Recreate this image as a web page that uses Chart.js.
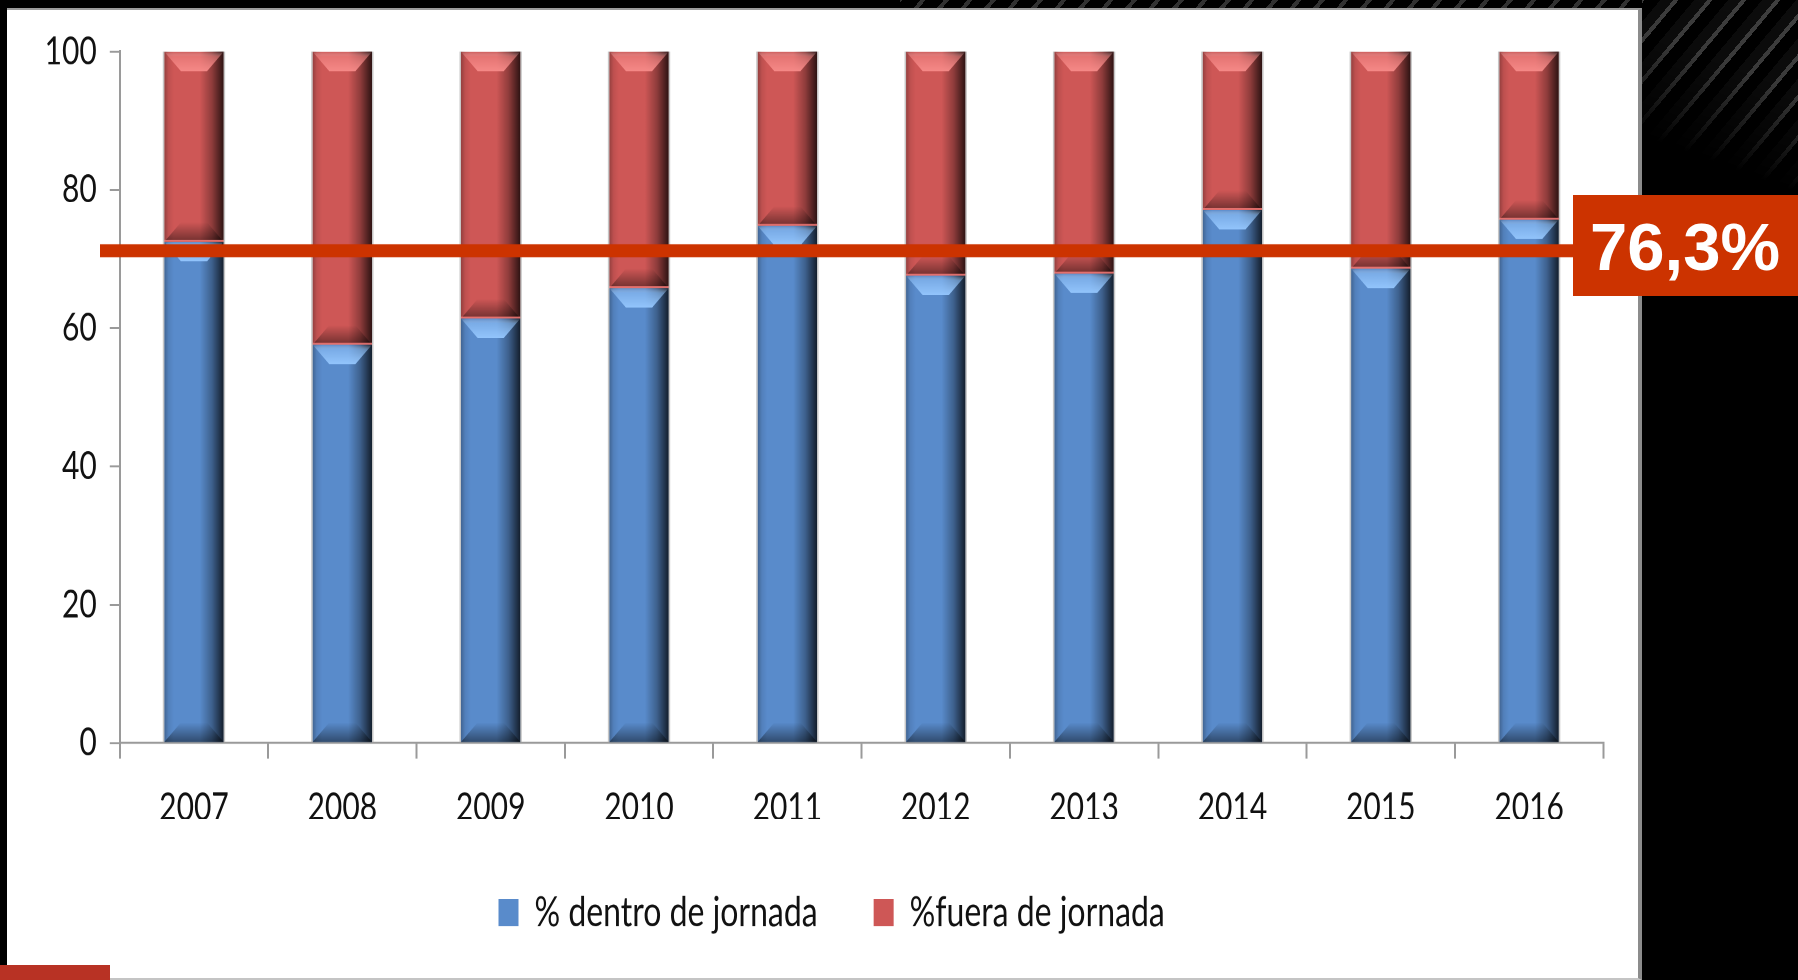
<!DOCTYPE html>
<html>
<head>
<meta charset="utf-8">
<script src="https://cdn.jsdelivr.net/npm/chart.js@4.4.1/dist/chart.umd.min.js"></script>
<style>
html,body{margin:0;padding:0;background:#000;width:1798px;height:980px;overflow:hidden;}
#panel{position:absolute;left:7px;top:8px;width:1631px;height:968px;background:#fff;border-top:2px solid #9b9b9b;border-right:4px solid #8c8c8c;border-bottom:2px solid #c4c4c4;}
#tex{position:absolute;left:1642px;top:0;width:156px;height:200px;
 background:repeating-linear-gradient(-50deg,rgba(0,0,0,0) 0 12px,rgba(85,85,85,0.75) 12px 16px,rgba(20,20,20,0.6) 16px 26px);
 -webkit-mask-image:linear-gradient(200deg,rgba(0,0,0,1) 0%,rgba(0,0,0,0.9) 35%,rgba(0,0,0,0) 75%);
 mask-image:linear-gradient(200deg,rgba(0,0,0,1) 0%,rgba(0,0,0,0.9) 35%,rgba(0,0,0,0) 75%);}
#toptex{position:absolute;left:900px;top:0;width:742px;height:8px;
 background:repeating-linear-gradient(-50deg,rgba(0,0,0,0) 0 14px,rgba(70,70,70,0.7) 14px 18px);}
#wrap{position:absolute;left:0;top:0;width:1798px;height:754px;transform:scaleY(1.3);transform-origin:0 0;}
#badge{position:absolute;left:1573px;top:195px;width:225px;height:101px;background:#CC3300;}
#badge span{position:absolute;left:17px;top:18px;font:bold 67px "Liberation Sans",Arial,sans-serif;line-height:67px;color:#fff;white-space:nowrap;}
#corner{position:absolute;left:0;top:965px;width:110px;height:15px;background:#B83224;}
</style>
</head>
<body>
<div id="panel"></div>
<div id="tex"></div>
<div id="toptex"></div>
<div id="wrap"><canvas id="c"></canvas></div>
<div id="badge"><span id="badgeText"></span></div>
<div id="corner"></div>
<script>
// ---- data ----
const years = ['2007','2008','2009','2010','2011','2012','2013','2014','2015','2016'];
const dentro = [72.5, 57.6, 61.4, 65.8, 74.8, 67.6, 67.9, 77.1, 68.6, 75.7];
const fuera  = [27.5, 42.4, 38.6, 34.2, 25.2, 32.4, 32.1, 22.9, 31.4, 24.3];
const seriesNames = ['% dentro de jornada', '%fuera de jornada'];
const yTicks = [0, 20, 40, 60, 80, 100];
const refLevel = [71.2];
const refLabel = ['76,3%'];

document.getElementById('badgeText').textContent = refLabel[0];

const STRETCH = 1.3;
const lightCols = ['rgba(150,200,255,1)', 'rgba(248,140,138,1)'];

const legendShift = {
  id: 'legendShift',
  afterLayout(chart) {
    if (chart.legend) { chart.legend.left += 30; chart.legend.right += 30; }
  }
};

const bevelPlugin = {
  id: 'bevel',
  afterDatasetsDraw(chart) {
    const ctx = chart.ctx;
    chart.data.datasets.forEach((ds, di) => {
      const meta = chart.getDatasetMeta(di);
      meta.data.forEach(el => {
        const p = el.getProps(['x', 'y', 'base', 'width'], true);
        const w = p.width, l = p.x - w / 2, r = p.x + w / 2;
        const t = Math.min(p.y, p.base), b = Math.max(p.y, p.base);
        const d = Math.min(15, (b - t) / 2);
        const ins = w * 0.28;
        ctx.save();
        let g = ctx.createLinearGradient(l, 0, r, 0);
        g.addColorStop(0, 'rgba(0,0,0,0.28)');
        g.addColorStop(0.07, 'rgba(0,0,0,0.08)');
        g.addColorStop(0.16, 'rgba(0,0,0,0)');
        g.addColorStop(0.6, 'rgba(0,0,0,0)');
        g.addColorStop(0.8, 'rgba(0,0,0,0.3)');
        g.addColorStop(1, 'rgba(0,0,0,0.78)');
        ctx.fillStyle = g;
        ctx.fillRect(l, t, w, b - t);
        g = ctx.createLinearGradient(0, t, 0, t + d);
        g.addColorStop(0, 'rgba(255,255,255,0)');
        g.addColorStop(0.25, lightCols[di].replace(',1)', ',0.55)'));
        g.addColorStop(1, lightCols[di].replace(',1)', ',0.95)'));
        ctx.fillStyle = g;
        ctx.beginPath();
        ctx.moveTo(l, t); ctx.lineTo(r, t); ctx.lineTo(r - ins, t + d); ctx.lineTo(l + ins, t + d);
        ctx.closePath(); ctx.fill();
        g = ctx.createLinearGradient(0, b - d, 0, b);
        g.addColorStop(0, 'rgba(0,0,0,0)');
        g.addColorStop(1, 'rgba(0,0,0,0.45)');
        ctx.fillStyle = g;
        ctx.beginPath();
        ctx.moveTo(l, b); ctx.lineTo(r, b); ctx.lineTo(r - ins, b - d); ctx.lineTo(l + ins, b - d);
        ctx.closePath(); ctx.fill();
        if (di === 1) {
          ctx.fillStyle = 'rgba(240,120,118,0.9)';
          ctx.fillRect(l, b - 1.5, w, 1.5);
        }
        ctx.fillStyle = 'rgba(185,185,185,0.8)';
        ctx.fillRect(l - 1.5, t, 1.5, b - t);
        ctx.fillRect(r, t, 1.5, b - t);
        ctx.restore();
      });
    });
    const y = chart.scales.y.getPixelForValue(refLevel[0]);
    ctx.save();
    ctx.fillStyle = '#CC3300';
    ctx.fillRect(100, y - 13 / STRETCH / 2, 1573 - 100, 13 / STRETCH);
    ctx.restore();
  }
};

const font = {family: 'Lato, "Open Sans", sans-serif', size: 30};

new Chart(document.getElementById('c'), {
  type: 'bar',
  data: {
    labels: years,
    datasets: [
      {label: seriesNames[0], data: dentro, backgroundColor: '#598BCB', borderWidth: 0, barPercentage: 0.4, categoryPercentage: 1},
      {label: seriesNames[1], data: fuera, backgroundColor: '#CE5756', borderWidth: 0, barPercentage: 0.4, categoryPercentage: 1}
    ]
  },
  options: {
    responsive: true,
    maintainAspectRatio: false,
    animation: false,
    devicePixelRatio: 2,
    layout: {padding: {left: 0, right: 194.7, top: 39.7, bottom: 26}},
    plugins: {
      tooltip: {enabled: false},
      legend: {
        position: 'bottom',
        labels: {font: {family: 'Lato, "Open Sans", sans-serif', size: 32}, color: '#111', boxWidth: 20, boxHeight: 21, padding: 56}
      }
    },
    scales: {
      x: {
        stacked: true,
        grid: {display: true, drawOnChartArea: false, drawTicks: true, tickLength: 12, color: '#9a9a9a', lineWidth: 2, offset: true},
        border: {display: true, color: '#9a9a9a', width: 1.6},
        ticks: {font: font, color: '#111', padding: 20, maxRotation: 0, autoSkip: false},
        afterFit: s => { s.height = 58.5; }
      },
      y: {
        stacked: true, min: 0, max: 100,
        grid: {display: true, drawOnChartArea: false, tickLength: 10, color: '#9a9a9a', lineWidth: 1.5},
        border: {display: true, color: '#9a9a9a', width: 2},
        ticks: {font: font, color: '#111', padding: 13},
        afterBuildTicks: s => { s.ticks = yTicks.map(v => ({value: v})); },
        afterFit: s => { s.width = 119.8; }
      }
    }
  },
  plugins: [bevelPlugin, legendShift]
});
</script>
</body>
</html>
